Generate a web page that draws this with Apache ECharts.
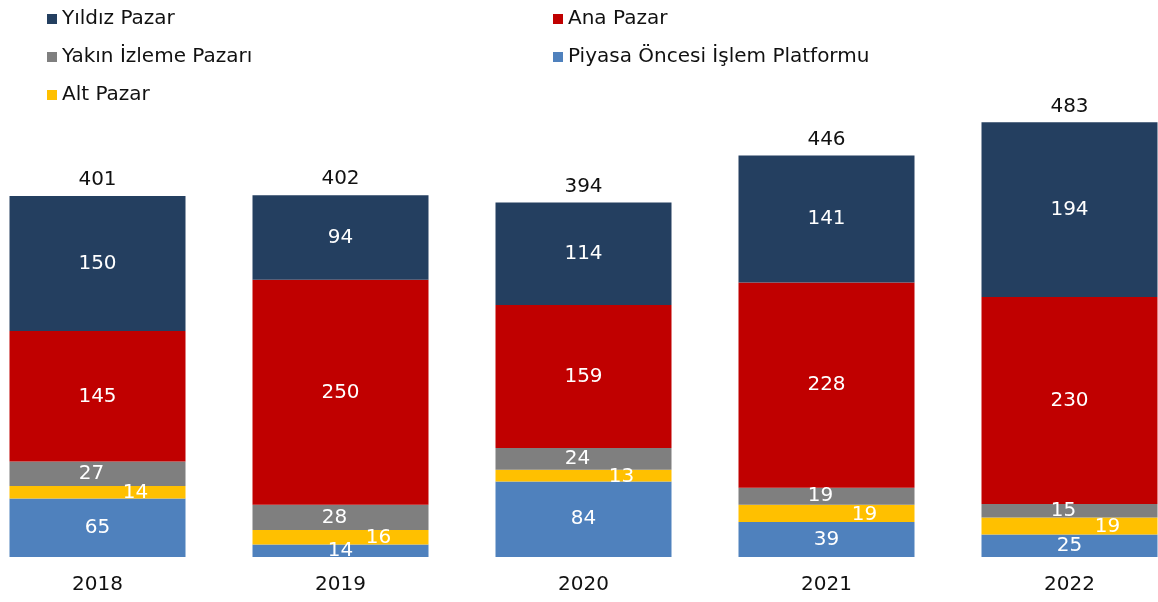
<!DOCTYPE html>
<html>
<head>
<meta charset="utf-8">
<script src="https://cdn.jsdelivr.net/npm/echarts@6/dist/echarts.min.js"></script>
<style>
  html, body { margin: 0; padding: 0; background: #fff; }
  #chart { width: 1158px; height: 602px; }
</style>
</head>
<body>
<div id="chart"></div>
<script>
// yıllar
const years = ['2018', '2019', '2020', '2021', '2022']
// pazarlar (alttan üste)
const piyasaOncesi = [65, 14, 84, 39, 25]
const altPazar = [14, 16, 13, 19, 19]
const yakinIzleme = [27, 28, 24, 19, 15]
const anaPazar = [145, 250, 159, 228, 230]
const yildizPazar = [150, 94, 114, 141, 194]
const totals = [401, 402, 394, 446, 483]

const FONT = '"DejaVu Sans", Verdana, sans-serif'
const chart = echarts.init(document.getElementById('chart'))

function stackSeries(name, data, color, label) {
  return {
    name,
    type: 'bar',
    stack: 'all',
    barWidth: 176,
    data,
    itemStyle: { color },
    label: Object.assign({
      show: true,
      position: 'inside',
      color: '#fff',
      fontFamily: FONT,
      fontSize: 20
    }, label || {})
  }
}

const legendText = { fontFamily: FONT, fontSize: 20, color: '#111', lineHeight: 22 }

const option = {
  animation: false,
  backgroundColor: '#fff',
  legend: [
    {
      data: ['Yıldız Pazar', 'Yakın İzleme Pazarı', 'Alt Pazar'],
      orient: 'vertical',
      left: 42,
      top: 3,
      icon: 'rect',
      itemWidth: 10,
      itemHeight: 10,
      itemGap: 16,
      textStyle: legendText
    },
    {
      data: ['Ana Pazar', 'Piyasa Öncesi İşlem Platformu'],
      orient: 'vertical',
      left: 548,
      top: 3,
      icon: 'rect',
      itemWidth: 10,
      itemHeight: 10,
      itemGap: 16,
      textStyle: legendText
    }
  ],
  grid: { left: -24, right: -33, top: 17, bottom: 45, outerBoundsMode: 'none', containLabel: false },
  xAxis: {
    type: 'category',
    data: years,
    axisLine: { show: false },
    axisTick: { show: false },
    axisLabel: { color: '#111', fontFamily: FONT, fontSize: 20, margin: 18 }
  },
  yAxis: {
    type: 'value',
    min: 0,
    max: 600,
    show: false,
    splitLine: { show: false }
  },
  series: [
    stackSeries('Piyasa Öncesi İşlem Platformu', piyasaOncesi, '#4F81BD'),
    stackSeries('Alt Pazar', altPazar, '#FFC000', { offset: [38, 1] }),
    stackSeries('Yakın İzleme Pazarı', yakinIzleme, '#7F7F7F', { offset: [-6, 0] }),
    stackSeries('Ana Pazar', anaPazar, '#C00000'),
    stackSeries('Yıldız Pazar', yildizPazar, '#243F60'),
    {
      name: 'Toplam',
      type: 'bar',
      stack: 'all',
      barWidth: 176,
      data: totals.map(() => 0),
      itemStyle: { color: 'transparent' },
      label: {
        show: true,
        position: 'top',
        distance: 6,
        color: '#111',
        fontFamily: FONT,
        fontSize: 20,
        formatter: p => totals[p.dataIndex]
      }
    }
  ]
}

chart.setOption(option)
</script>
</body>
</html>
